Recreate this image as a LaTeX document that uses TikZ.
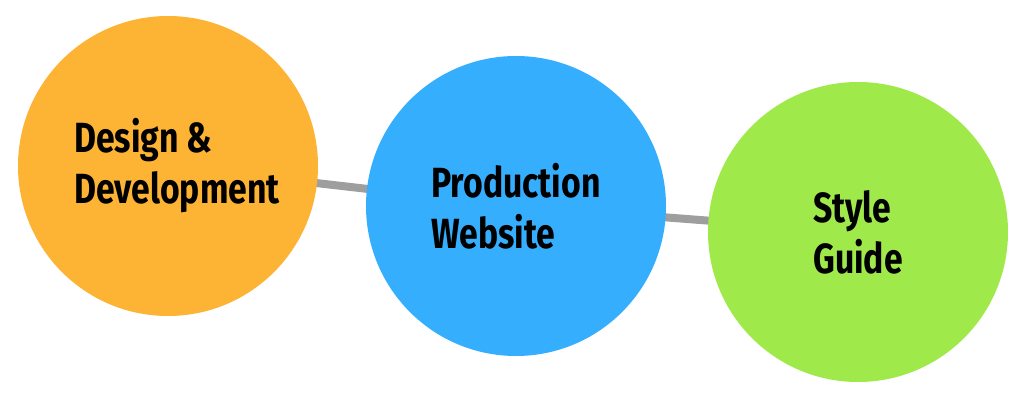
\documentclass[tikz,border=0pt]{standalone}
\usepackage{fontspec}
\usepackage{xcolor}
\usepackage{tikz}
\usetikzlibrary{positioning}
\usetikzlibrary{backgrounds}
\newfontfamily\stagefont[FakeStretch=0.8]{Fira Sans}
\definecolor{stageorange}{RGB}{253,179,52}
\definecolor{stageblue}{RGB}{54,174,254}
\definecolor{stagegreen}{RGB}{160,233,74}
\definecolor{linkgray}{RGB}{158,158,158}
\tikzset{stage/.style={circle,minimum size=7.5cm,inner sep=0pt,align=left,
    font=\stagefont\bfseries\fontsize{30}{36.3}\selectfont}}
\tikzset{link/.style={draw=linkgray,line width=0.2cm}}

\begin{document}
\begin{tikzpicture}
  \useasboundingbox (0,0) rectangle (25.6,-10.05);

  \def\ind{\hspace*{0.45cm}}

  \foreach \x/\y/\col/\name/\txt in {4.2/-4.15/stageorange/dd/{\ind Design \&\\\ind Development},
      12.9/-5.15/stageblue/pw/{Production\\Website},
      21.45/-5.8/stagegreen/sg/{Style\\Guide}} {
    \node[stage, fill=\col] (\name) at (\x,\y) {\txt};
  }

  \begin{scope}[on background layer]
    \draw[link] (dd.center) -- (pw.center);
    \draw[link] (pw.center) -- (sg.center);
  \end{scope}
\end{tikzpicture}
\end{document}
